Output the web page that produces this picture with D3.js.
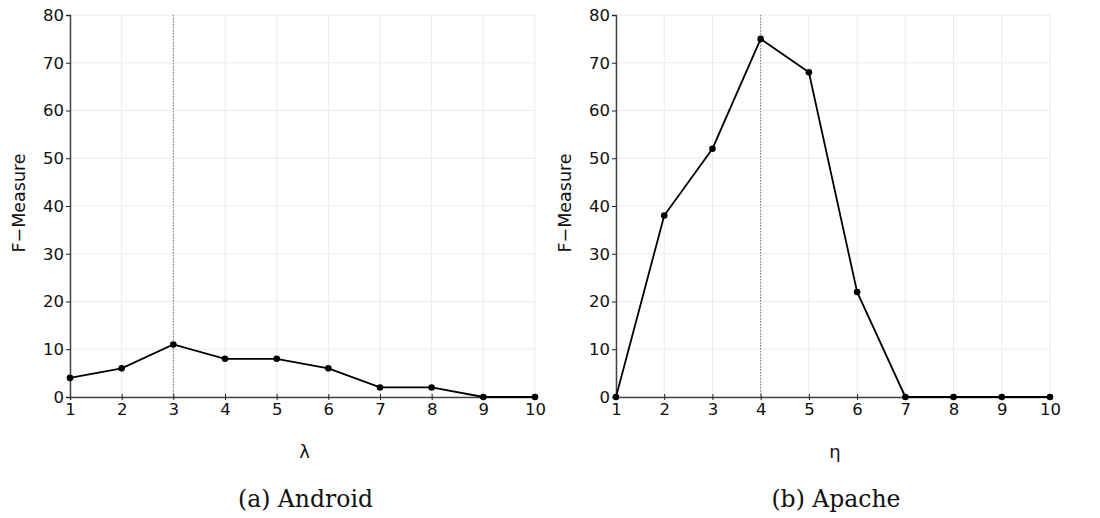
<!DOCTYPE html>
<html lang="en">
<head>
<meta charset="utf-8">
<title>F-Measure</title>
<script src="https://cdn.jsdelivr.net/npm/d3@7"></script>
<style>
  body { margin: 0; background: #fff; }
  svg text { fill: #111; }
</style>
</head>
<body>
<div id="chart"></div>
<script>
// ---- data
var xValues = [1, 2, 3, 4, 5, 6, 7, 8, 9, 10];
var yTicks = [0, 10, 20, 30, 40, 50, 60, 70, 80];
var androidValues = [4, 6, 11, 8, 8, 6, 2, 2, 0, 0];
var apacheValues = [0, 38, 52, 75, 68, 22, 0, 0, 0, 0];

var panels = [
  { values: androidValues, marker: 3, xTitle: "λ", caption: "(a) Android", left: 70, right: 535 },
  { values: apacheValues, marker: 4, xTitle: "η", caption: "(b) Apache", left: 616, right: 1050 }
];

var W = 1100, H = 518, plotTop = 15, plotBottom = 397;

var svg = d3.select("#chart").append("svg")
    .attr("width", W)
    .attr("height", H)
    .attr("font-family", "DejaVu Sans, sans-serif");

panels.forEach(function(p) {
  var x = d3.scaleLinear().domain([1, 10]).range([p.left, p.right]);
  var y = d3.scaleLinear().domain([0, 80]).range([plotBottom, plotTop]);
  var g = svg.append("g");

  // grid
  g.append("g").selectAll("line").data(xValues).join("line")
      .attr("x1", d => x(d)).attr("x2", d => x(d))
      .attr("y1", plotTop).attr("y2", plotBottom)
      .attr("stroke", "#ebebeb").attr("stroke-width", 1);
  g.append("g").selectAll("line").data(yTicks).join("line")
      .attr("x1", p.left).attr("x2", p.right)
      .attr("y1", d => y(d)).attr("y2", d => y(d))
      .attr("stroke", "#ebebeb").attr("stroke-width", 1);

  // dotted marker
  g.append("line")
      .attr("x1", x(p.marker)).attr("x2", x(p.marker))
      .attr("y1", plotTop).attr("y2", plotBottom)
      .attr("stroke", "#777").attr("stroke-width", 1)
      .attr("stroke-dasharray", "1.5,1.5");

  // axes
  var xAxis = g.append("g")
      .attr("transform", "translate(0," + plotBottom + ")")
      .call(d3.axisBottom(x).tickValues(xValues).tickSize(3).tickPadding(3).tickFormat(d3.format("d")));
  var yAxis = g.append("g")
      .attr("transform", "translate(" + p.left + ",0)")
      .call(d3.axisLeft(y).tickValues(yTicks).tickSize(4).tickPadding(2));
  [xAxis, yAxis].forEach(function(a) {
    a.select(".domain").attr("stroke", "#444").attr("stroke-width", 1.5);
    a.selectAll(".tick line").attr("stroke", "#222");
    a.selectAll(".tick text").attr("font-size", 16.5).attr("font-family", "DejaVu Sans, sans-serif").attr("fill", "#111");
  });
  xAxis.selectAll(".tick line").attr("y1", -3);

  // line + points
  g.append("path")
      .datum(p.values)
      .attr("fill", "none")
      .attr("stroke", "#000")
      .attr("stroke-width", 1.8)
      .attr("d", d3.line().x((d, i) => x(xValues[i])).y(d => y(d)));
  g.append("g").selectAll("circle").data(p.values).join("circle")
      .attr("cx", (d, i) => x(xValues[i]))
      .attr("cy", d => y(d))
      .attr("r", 3.3)
      .attr("fill", "#000");

  // labels
  g.append("text")
      .attr("transform", "translate(" + (p.left - 45) + ",203) rotate(-90)")
      .attr("text-anchor", "middle")
      .attr("font-size", 17.5)
      .text("F\u2212Measure");
  g.append("text")
      .attr("x", (p.left + p.right) / 2 + 2)
      .attr("y", 458)
      .attr("text-anchor", "middle")
      .attr("font-size", 18)
      .text(p.xTitle);
  g.append("text")
      .attr("x", (p.left + p.right) / 2 + 3)
      .attr("y", 507)
      .attr("text-anchor", "middle")
      .attr("font-family", "DejaVu Serif, serif")
      .attr("font-size", 23.5)
      .text(p.caption);
});
</script>
</body>
</html>
